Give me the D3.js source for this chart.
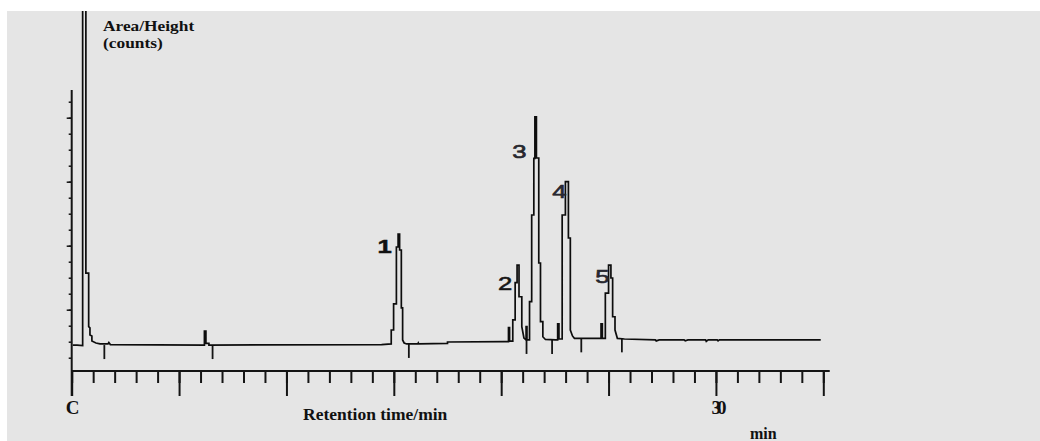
<!DOCTYPE html>
<html><head><meta charset="utf-8">
<script src="https://cdn.jsdelivr.net/npm/d3@7"></script>
<style>html,body{margin:0;padding:0;background:#fff;overflow:hidden} svg{display:block}</style>
</head><body>
<svg id="chart" width="1040" height="441"></svg>
<script>
// ---- data (retention time in min, detector signal in arbitrary count units) ----
const traceTime = [0.05,0.25,0.51,0.51,0.66,0.66,0.79,0.79,0.85,0.85,0.94,0.94,1.13,1.32,1.69,1.73,1.80,
  6.18,6.18,6.25,6.25,6.39,6.39,
  14.43,14.88,14.88,14.99,14.99,15.12,15.12,15.20,15.20,15.27,15.27,15.35,15.35,15.41,15.41,15.48,15.60,16.12,16.14,16.16,17.50,17.50,
  20.15,20.34,20.34,20.39,20.39,20.54,20.54,20.65,20.65,20.74,20.74,20.83,20.83,20.96,20.96,21.06,
  21.16,21.16,21.20,21.20,21.32,21.32,21.42,21.42,21.52,21.52,21.57,21.57,21.64,21.64,21.75,21.75,21.83,21.83,21.94,21.94,22.06,
  22.53,22.63,22.63,22.69,22.69,22.84,22.84,22.99,22.99,23.13,23.13,23.22,23.22,23.32,23.41,
  24.65,24.65,24.71,24.71,24.85,24.85,25.00,25.00,25.11,25.11,25.19,25.19,25.30,25.30,25.41,25.74,
  27.18,27.22,27.36,28.52,28.57,28.70,29.52,29.55,29.64,30.06,30.10,30.16,34.88];
const traceSignal = [0.79,0.79,0.76,23,23,5.29,5.29,1.94,1.86,1.42,1.36,1.04,0.92,0.86,0.86,0.95,0.82,
  0.79,1.67,1.67,0.89,0.89,0.79,
  0.82,0.86,1.73,1.73,3.36,3.36,6.92,6.92,7.73,7.73,6.73,6.73,3.11,3.11,1.11,0.92,0.86,0.86,0.92,0.86,0.90,0.98,
  1.00,1.00,1.88,1.88,1.04,1.04,2.36,2.36,4.69,4.69,5.79,5.79,3.81,3.81,1.94,1.23,
  1.11,1.94,1.94,1.11,1.11,3.50,3.50,8.92,8.92,12.46,12.46,15.06,15.06,12.48,12.48,5.92,5.92,2.25,2.25,1.31,1.14,
  1.11,1.11,2.11,2.11,1.17,1.17,8.92,8.92,11.00,11.00,7.48,7.48,1.73,1.36,1.21,
  1.21,2.11,2.11,1.21,1.21,4.04,4.04,5.79,5.79,4.98,4.98,2.56,2.56,1.73,1.21,1.17,
  1.11,1.05,1.11,1.11,1.05,1.11,1.11,1.02,1.11,1.11,1.05,1.11,1.11];
const markerTimes  = [1.52, 6.56, 15.70, 21.18, 22.37, 23.73, 25.62];
const markerLevels = [0.79, 0.79, 0.86, 1.11, 1.11, 1.21, 1.21];
const peakLabels  = ["1", "2", "3", "4", "5"];
const labelTimes  = [14.90, 20.52, 21.18, 23.04, 25.04];
const labelLevels = [6.54, 4.23, 12.48, 9.98, 4.67];
const xMinorTicks = d3.range(0, 36, 1);
const xMajorTicks = d3.range(0, 36, 5);
const xLabelTimes = [0, 30];
const xLabelTexts = ["C", "30"];
const yMinorTicks = d3.range(0, 17, 1);
const yMajorTicks = [3, 7, 11, 15];
const yTitleLines = ["Area/Height", "(counts)"];
const xTitle = "Retention time/min";
const unitText = "min";

// ---- drawing ----
const svg = d3.select("#chart");
svg.append("rect").attr("x", 7).attr("y", 11).attr("width", 1033).attr("height", 430).attr("fill", "#e5e5e5");
svg.append("defs").append("clipPath").attr("id", "plotclip")
  .append("rect").attr("x", 7).attr("y", 11).attr("width", 1033).attr("height", 430);

const x = d3.scaleLinear().domain([0, 35]).range([71.7, 823.3]);
const y = d3.scaleLinear().domain([0, 16]).range([357.7, 101.7]);
const axisY = 371;
const ink = "#141414";

// x axis: minor + major ticks
const gxMinor = svg.append("g").attr("transform", `translate(0,${axisY})`)
  .call(d3.axisBottom(x).tickValues(xMinorTicks).tickSize(12).tickSizeOuter(0).tickFormat(""));
const gxMajor = svg.append("g").attr("transform", `translate(0,${axisY})`)
  .call(d3.axisBottom(x).tickValues(xMajorTicks).tickSize(25).tickSizeOuter(0).tickFormat(""));
[gxMinor, gxMajor].forEach(g => {
  g.select(".domain").remove();
  g.selectAll(".tick line").attr("stroke", ink).attr("stroke-width", 2);
});
svg.append("line").attr("x1", x(0)).attr("x2", x(35.3)).attr("y1", axisY).attr("y2", axisY)
  .attr("stroke", ink).attr("stroke-width", 2);

// y axis
const gyMinor = svg.append("g").attr("transform", `translate(${x(0)},0)`)
  .call(d3.axisLeft(y).tickValues(yMinorTicks).tickSize(3).tickSizeOuter(0).tickFormat(""));
const gyMajor = svg.append("g").attr("transform", `translate(${x(0)},0)`)
  .call(d3.axisLeft(y).tickValues(yMajorTicks).tickSize(5).tickSizeOuter(0).tickFormat(""));
[gyMinor, gyMajor].forEach(g => {
  g.select(".domain").remove();
  g.selectAll(".tick line").attr("stroke", ink).attr("stroke-width", 1.5);
});
svg.append("line").attr("x1", x(0)).attr("x2", x(0)).attr("y1", 90).attr("y2", axisY + 25)
  .attr("stroke", ink).attr("stroke-width", 2);

// integration markers
svg.append("g").selectAll("line").data(markerTimes).join("line")
  .attr("x1", d => x(d)).attr("x2", d => x(d))
  .attr("y1", (d, i) => y(markerLevels[i])).attr("y2", (d, i) => y(markerLevels[i]) + 14)
  .attr("stroke", ink).attr("stroke-width", 1.8);

// trace
const pts = traceTime.map((t, i) => [t, traceSignal[i]]);
svg.append("path").datum(pts)
  .attr("clip-path", "url(#plotclip)")
  .attr("d", d3.line().x(d => x(d[0])).y(d => y(d[1])))
  .attr("fill", "none").attr("stroke", "#0d0d0d").attr("stroke-width", 1.7)
  .attr("stroke-linejoin", "miter");

// peak labels
svg.append("g").selectAll("text").data(peakLabels).join("text")
  .attr("transform", (d, i) => `translate(${x(labelTimes[i])},${y(labelLevels[i])}) scale(1.35,1)`)
  .attr("text-anchor", "end")
  .attr("font-family", "Liberation Sans, Arial, sans-serif")
  .attr("font-size", 19)
  .attr("font-weight", (d, i) => i === 0 ? "bold" : "normal")
  .attr("stroke", (d, i) => i === 0 ? "#111" : "#222")
  .attr("stroke-width", (d, i) => i === 0 ? 0.5 : 0.6)
  .attr("fill", (d, i) => i < 2 ? "#111" : "#2a2a3a")
  .text(d => d);

// x tick labels
svg.append("g").selectAll("text").data(xLabelTexts).join("text")
  .attr("x", (d, i) => x(xLabelTimes[i]) + 1).attr("y", 414)
  .attr("text-anchor", "middle")
  .attr("font-family", "Liberation Serif, Times New Roman, serif")
  .attr("font-size", 19).attr("font-weight", "bold")
  .attr("letter-spacing", (d, i) => i === 0 ? 0 : -4)
  .attr("fill", "#111")
  .text(d => d);

// titles
svg.append("text").attr("x", 303).attr("y", 420)
  .attr("font-family", "Liberation Serif, Times New Roman, serif")
  .attr("font-size", 17.5).attr("font-weight", "bold").attr("fill", "#111")
  .text(xTitle);
svg.append("g").selectAll("text").data(yTitleLines).join("text")
  .attr("transform", (d, i) => `translate(103,${30.5 + i * 17}) scale(1.12,1)`)
  .attr("font-family", "Liberation Serif, Times New Roman, serif")
  .attr("font-size", 15.5).attr("font-weight", "bold").attr("fill", "#111")
  .text(d => d);
svg.append("text").attr("x", 750).attr("y", 439)
  .attr("font-family", "Liberation Serif, Times New Roman, serif")
  .attr("font-size", 16).attr("font-weight", "bold").attr("fill", "#111")
  .text(unitText);
</script>
</body></html>
